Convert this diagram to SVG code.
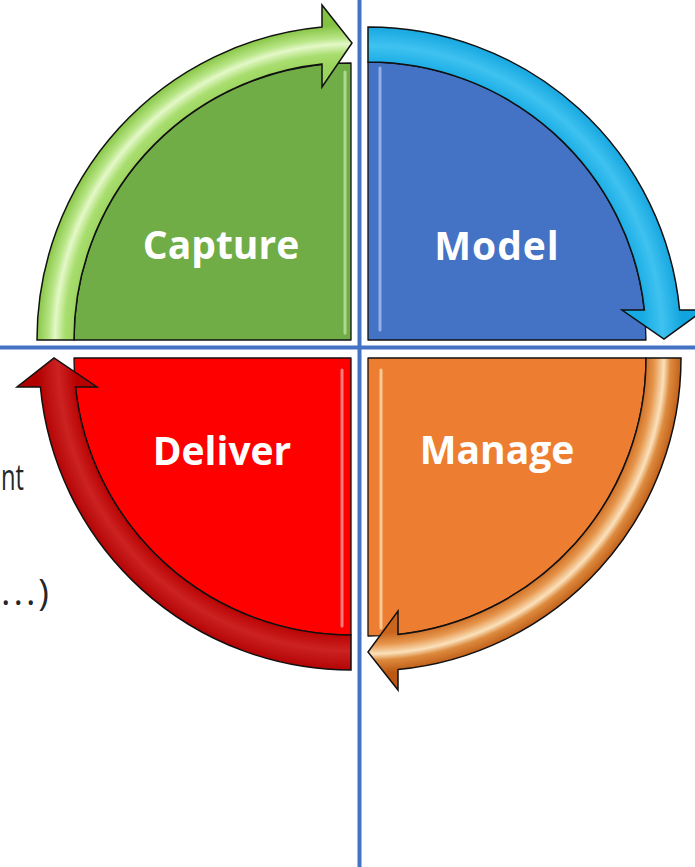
<svg xmlns="http://www.w3.org/2000/svg" width="695" height="867" viewBox="0 0 695 867">
  <style>
    .pie { stroke: #111; stroke-width: 1.3; stroke-linejoin: round; }
    .arrow { stroke: #111; stroke-width: 1.5; stroke-linejoin: miter; }
    .label { font-family: "Open Sans", "DejaVu Sans", sans-serif; font-weight: bold; font-size: 39px; fill: #ffffff; text-anchor: middle; }
    .side { font-family: "Open Sans", "DejaVu Sans", sans-serif; font-size: 36px; fill: #262626; }
    .axis { stroke: #4472C4; stroke-width: 4; }
    .bevel { stroke-width: 3; fill: none; stroke-linecap: round; }
  </style>
  <defs>
    <!-- concentric glossy bands, centred on each slice corner -->
    <radialGradient id="gGreen" gradientUnits="userSpaceOnUse" cx="351" cy="340" r="320">
      <stop offset="0.86" stop-color="#9bd45c"/>
      <stop offset="0.895" stop-color="#a9de70"/>
      <stop offset="0.925" stop-color="#e4f8c8"/>
      <stop offset="0.945" stop-color="#b7e585"/>
      <stop offset="0.985" stop-color="#84c341"/>
    </radialGradient>
    <radialGradient id="gCyan" gradientUnits="userSpaceOnUse" cx="368" cy="340" r="320">
      <stop offset="0.86" stop-color="#17abe4"/>
      <stop offset="0.92" stop-color="#3fc2f0"/>
      <stop offset="0.985" stop-color="#12a4de"/>
    </radialGradient>
    <radialGradient id="gOrange" gradientUnits="userSpaceOnUse" cx="368" cy="358" r="320">
      <stop offset="0.86" stop-color="#c9651d"/>
      <stop offset="0.895" stop-color="#e6964c"/>
      <stop offset="0.925" stop-color="#fbe1bb"/>
      <stop offset="0.945" stop-color="#dc8a3e"/>
      <stop offset="0.985" stop-color="#bd5812"/>
    </radialGradient>
    <radialGradient id="gRed" gradientUnits="userSpaceOnUse" cx="351" cy="358" r="320">
      <stop offset="0.86" stop-color="#b80000"/>
      <stop offset="0.915" stop-color="#cc2222"/>
      <stop offset="0.985" stop-color="#b00000"/>
    </radialGradient>
  </defs>

  <rect width="695" height="867" fill="#ffffff"/>

  <!-- axes -->
  <g id="axes">
    <line class="axis" x1="359.5" y1="0" x2="359.5" y2="867"/>
    <line class="axis" x1="0" y1="347.5" x2="695" y2="347.5"/>
  </g>

  <!-- side text on the left -->
  <g id="side-text">
    <text class="side" x="1" y="490" textLength="23" lengthAdjust="spacingAndGlyphs">nt</text>
    <text class="side" x="1" y="605" letter-spacing="3">...)</text>
  </g>

  <g id="node-capture">
    <path class="pie" d="M351,340 L74,340 A277,277 0 0 1 351,63 Z" fill="#70AD47"/>
    <line class="bevel" x1="345" y1="72" x2="345" y2="333" stroke="#b9df9c" opacity="0.85"/>
    <text class="label" x="221" y="259">Capture</text>
  </g>

  <g id="node-model">
    <path class="pie" d="M368,340 L368,62 A278,278 0 0 1 646,340 Z" fill="#4472C4"/>
    <line class="bevel" x1="380" y1="68" x2="380" y2="330" stroke="#9bb8ea" opacity="0.9"/>
    <text class="label" x="497" y="260" letter-spacing="1">Model</text>
  </g>

  <g id="node-manage">
    <path class="pie" d="M368,358 L646,358 A278,278 0 0 1 368,636 Z" fill="#ED7D31"/>
    <line class="bevel" x1="381" y1="370" x2="381" y2="628" stroke="#fbd29e" opacity="0.9"/>
    <text class="label" x="497" y="464">Manage</text>
  </g>

  <g id="node-deliver">
    <path class="pie" d="M351,358 L351,635 A277,277 0 0 1 74,358 Z" fill="#FF0000"/>
    <line class="bevel" x1="342" y1="370" x2="342" y2="626" stroke="#ff8a8a" opacity="0.9"/>
    <text class="label" x="222" y="465">Deliver</text>
  </g>

  <!-- curved cycle arrows -->
  <g id="connectors">
    <path class="arrow" fill="url(#gGreen)" d="M37,340 A314,314 0 0 1 322,27 L322,5 L352,43 L322,87 L322,64 A277,277 0 0 0 74,340 Z"/>
    <path class="arrow" fill="url(#gCyan)" d="M368,27 A313,313 0 0 1 679.6,310 L704,310 L664,339 L622,310 L644.4,310 A278,278 0 0 0 368,62 Z"/>
    <path class="arrow" fill="url(#gOrange)" d="M681,358 A313,313 0 0 1 398,669.6 L398,690 L368,652 L398,611 L398,634.4 A278,278 0 0 0 646,358 Z"/>
    <path class="arrow" fill="url(#gRed)" d="M351,670 A312,312 0 0 1 40.4,387 L17,387 L54,358 L97,387 L75.5,387 A277,277 0 0 0 351,635 Z"/>
  </g>
</svg>
